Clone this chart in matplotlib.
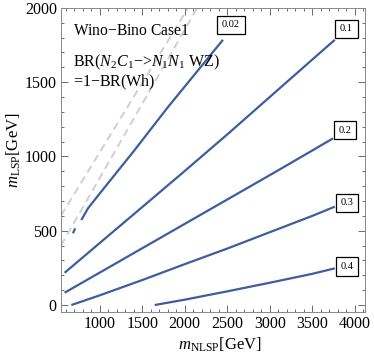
import matplotlib
matplotlib.use("Agg")
import matplotlib.pyplot as plt
from matplotlib.ticker import MultipleLocator

plt.rcParams['font.family'] = ['Liberation Serif', 'DejaVu Serif']
plt.rcParams['mathtext.fontset'] = 'custom'
plt.rcParams['mathtext.rm'] = 'Liberation Serif'
plt.rcParams['mathtext.it'] = 'Liberation Serif:italic'

# contour levels and their traced (m_NLSP, m_LSP) points
levels = ["0.02", "0.1", "0.2", "0.3", "0.4"]
c002_x = [784, 863, 1000, 1400, 1800, 2200, 2450]
c002_y = [572, 651, 750, 1035, 1330, 1610, 1785]
c002b_x = [686, 713]
c002b_y = [483, 516]
c01_x = [588, 1000, 1500, 2000, 2500, 3000, 3500, 3765]
c01_y = [217, 417, 659, 902, 1148, 1400, 1652, 1785]
c02_x = [588, 1000, 1500, 2000, 2500, 3000, 3500, 3745]
c02_y = [83, 218, 382, 546, 710, 874, 1040, 1122]
c03_x = [667, 1000, 1500, 2000, 2500, 3000, 3500, 3765]
c03_y = [0, 65, 168, 275, 380, 490, 600, 662]
c04_x = [1647, 2000, 2500, 3000, 3500, 3765]
c04_y = [0, 36, 92, 150, 210, 247]
# kinematic boundary lines (dashed)
d1_x = [545, 2041]
d1_y = [602, 2000]
d2_x = [545, 2147]
d2_y = [400, 2000]
# label box positions
lab_x = [2545, 3902, 3882, 3906, 3906]
lab_y = [1886, 1859, 1176, 687, 259]

fig = plt.figure(figsize=(3.74, 3.57), dpi=100)
ax = fig.add_axes([0.163, 0.126, 0.813, 0.852])

blue = '#3d5d9e'
gray = '#d0d0d0'
ax.plot(d1_x, d1_y, color=gray, lw=1.4, dashes=(4, 2.5))
ax.plot(d2_x, d2_y, color=gray, lw=1.4, dashes=(4, 2.5))
for xs, ys in [(c002_x, c002_y), (c002b_x, c002b_y), (c01_x, c01_y),
               (c02_x, c02_y), (c03_x, c03_y), (c04_x, c04_y)]:
    ax.plot(xs, ys, color=blue, lw=1.6, solid_capstyle='butt')

for t, x, y in zip(levels, lab_x, lab_y):
    ax.text(x, y, t, fontsize=7.5, ha='center', va='center',
            bbox=dict(boxstyle='square,pad=0.45', fc='white', ec='black', lw=0.9))

ax.text(0.04, 0.95, "Wino$-$Bino Case1", transform=ax.transAxes, fontsize=11.2,
        ha='left', va='top')
ax.text(0.04, 0.853, "BR($N_2C_1$$-$>$N_1N_1$ WZ)", transform=ax.transAxes, fontsize=11.5,
        ha='left', va='top')
ax.text(0.04, 0.787, "=1$-$BR(Wh)", transform=ax.transAxes, fontsize=11.5,
        ha='left', va='top')

ax.set_xlim(545, 4120)
ax.set_ylim(-47, 2000)
ax.xaxis.set_major_locator(MultipleLocator(500))
ax.xaxis.set_minor_locator(MultipleLocator(100))
ax.yaxis.set_major_locator(MultipleLocator(500))
ax.yaxis.set_minor_locator(MultipleLocator(100))
ax.tick_params(which='both', direction='in', top=True, right=True, labelsize=11.5,
               color='#555555', width=0.6)
ax.tick_params(which='major', length=5)
ax.tick_params(which='minor', length=2.5)
ax.tick_params(axis='x', pad=3)
ax.tick_params(axis='y', pad=3)
for s in ax.spines.values():
    s.set_color('#888888')
    s.set_linewidth(0.7)

ax.set_xlabel("$m_{\\rm NLSP}$[GeV]", fontsize=12)
ax.set_ylabel("$m_{\\rm LSP}$[GeV]", fontsize=12)
ax.xaxis.set_label_coords(0.523, -0.109)
ax.yaxis.set_label_coords(-0.155, 0.533)
ax.xaxis.label.set_va('center')
ax.yaxis.label.set_va('center')

fig.savefig("out.png", dpi=100)
